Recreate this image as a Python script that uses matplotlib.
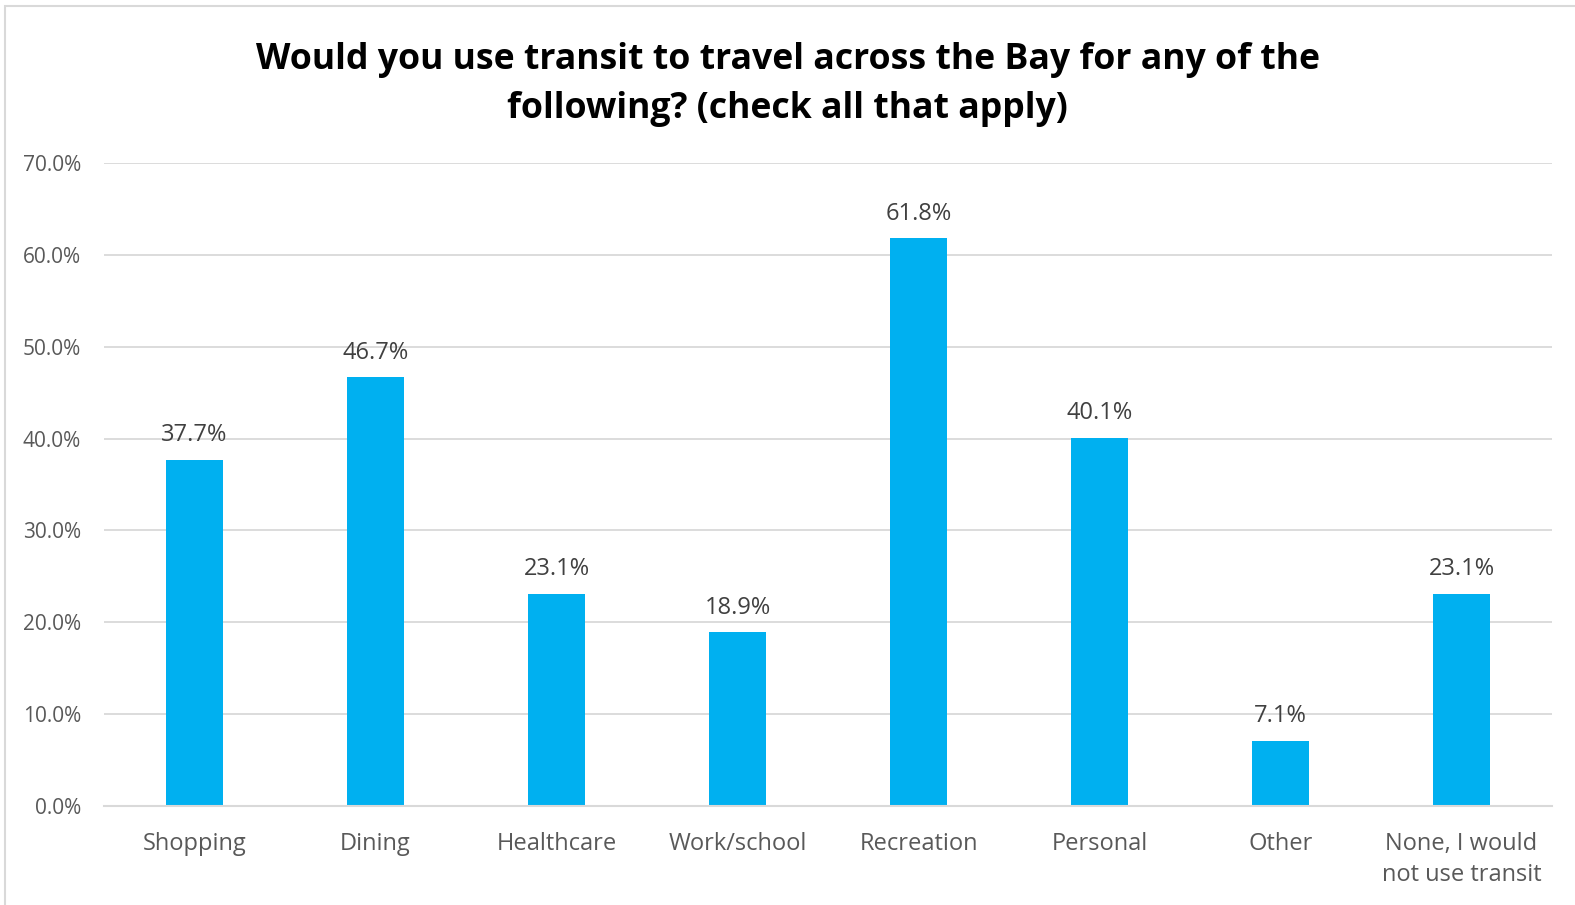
import matplotlib
matplotlib.use("Agg")
import matplotlib.pyplot as plt
from matplotlib.patches import Rectangle
from matplotlib.ticker import FuncFormatter, MultipleLocator

categories = ["Shopping", "Dining", "Healthcare", "Work/school", "Recreation",
              "Personal", "Other", "None, I would\nnot use transit"]
values = [37.7, 46.7, 23.1, 18.9, 61.8, 40.1, 7.1, 23.1]
title = "Would you use transit to travel across the Bay for any of the\nfollowing? (check all that apply)"

plt.rcParams['font.family'] = ['Open Sans', 'DejaVu Sans']

W, H = 1575, 905
fig = plt.figure(figsize=(W / 100, H / 100), dpi=100)
ax = fig.add_axes([104 / W, 1 - 806 / H, (1552 - 104) / W, (806 - 163) / H])

bar_color = "#00B0F0"
grid_color = "#D9D9D9"
text_gray = "#595959"

x = list(range(len(categories)))
bars = ax.bar(x, values, width=0.315, color=bar_color, zorder=3)
ax.set_xlim(-0.5, len(categories) - 0.5)
ax.set_ylim(0, 70)
ax.yaxis.set_major_locator(MultipleLocator(10))
ax.yaxis.set_major_formatter(FuncFormatter(lambda v, p: f"{v:.1f}%"))
ax.grid(axis="y", color=grid_color, linewidth=1.3, zorder=0)
for s in ["top", "right", "left"]:
    ax.spines[s].set_visible(False)
ax.spines["bottom"].set_color(grid_color)
ax.spines["bottom"].set_linewidth(1.5)
ax.spines["bottom"].set_zorder(4)
ax.tick_params(axis="y", length=0, pad=16.5, labelsize=15, labelcolor=text_gray)
ax.tick_params(axis="x", length=0, pad=18.5, labelsize=17, labelcolor=text_gray)
ax.set_xticks(x)
ax.set_xticklabels(categories, linespacing=1.4)

for xi, v in zip(x, values):
    ax.annotate(f"{v:.1f}%", (xi, v), xytext=(0, 9), textcoords="offset points",
                ha="center", va="bottom", fontsize=17, color="#404040")

fig.text(0.5, 1 - 118 / H, title, ha="center", va="baseline", fontsize=25.7,
         fontweight="bold", color="black", linespacing=1.5)

fig.patches.append(Rectangle((5 / W, -0.05), 1.2, 1 - 6 / H + 0.05,
                             transform=fig.transFigure, fill=False,
                             edgecolor=grid_color, linewidth=1.5))

fig.savefig("out.png", dpi=100)
